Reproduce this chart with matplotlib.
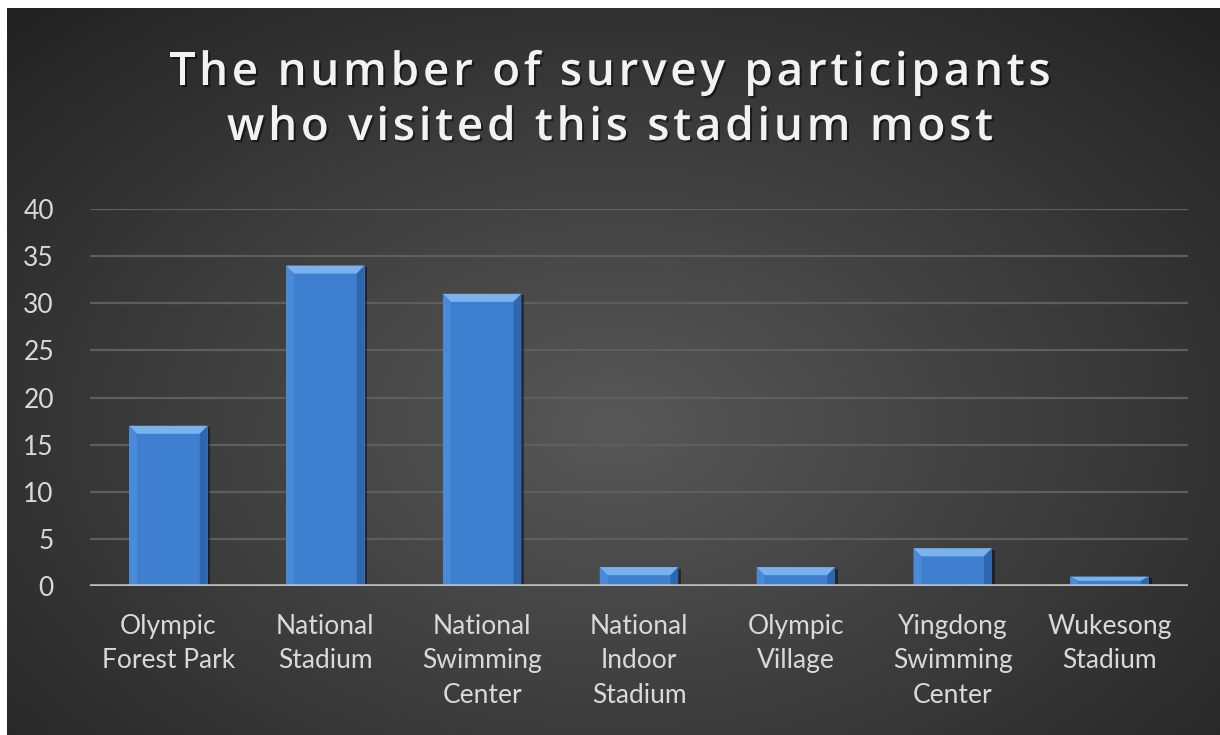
import numpy as np
import matplotlib
matplotlib.use("Agg")
import matplotlib.pyplot as plt
from matplotlib.patches import Polygon
import matplotlib.patheffects as pe

categories = ["Olympic\nForest Park", "National\nStadium", "National\nSwimming\nCenter",
              "National\nIndoor\nStadium", "Olympic\nVillage", "Yingdong\nSwimming\nCenter",
              "Wukesong\nStadium"]
visitors = [17, 34, 31, 2, 2, 4, 1]
y_ticks = [0, 5, 10, 15, 20, 25, 30, 35, 40]
title_lines = ["The number of survey participants", "who visited this stadium most"]

W, H = 1220, 735
fig = plt.figure(figsize=(W / 100, H / 100), dpi=100)
fig.patch.set_facecolor("white")

# dark radial-gradient chart area
bg = fig.add_axes([7 / W, 0, 1 - 7 / W, 1 - 8 / H])
bg.set_axis_off()
yy, xx = np.mgrid[0:400, 0:700]
cx, cy = 350, 230
r = np.sqrt(((xx - cx) / 520) ** 2 + ((yy - cy) / 330) ** 2)
r = np.clip(r, 0, 1)
inner = np.array([0x58, 0x58, 0x58]) / 255
outer = np.array([0x20, 0x20, 0x20]) / 255
img = inner[None, None, :] * (1 - r[..., None]) + outer[None, None, :] * r[..., None]
bg.imshow(img, extent=[0, 1, 0, 1], aspect="auto", interpolation="bilinear")
bg.set_xlim(0, 1)
bg.set_ylim(0, 1)

ax = fig.add_axes([90 / W, 149 / H, 1098 / W, 377 / H])
ax.set_facecolor("none")
ax.set_xlim(-0.5, len(categories) - 0.5)
ax.set_ylim(0, 40)

for t in y_ticks[1:]:
    ax.axhline(t, color="#5e5e5e", lw=1.6, zorder=1)

x = np.arange(len(categories))
bw = 0.5
bars = ax.bar(x, visitors, width=bw, color="#3e7fd0", zorder=3,
              path_effects=[pe.SimplePatchShadow(offset=(2, -1), shadow_rgbFace="black", alpha=0.45),
                            pe.Normal()])

# bevelled edges on each bar
bx = 0.05
by = 0.85
for b in bars:
    x0 = b.get_x()
    x1 = x0 + b.get_width()
    h = b.get_height()
    d = min(by, h * 0.45)
    dx = bx
    top = Polygon([[x0, h], [x1, h], [x1 - dx, h - d], [x0 + dx, h - d]],
                  closed=True, facecolor="#7ab2ee", edgecolor="none", zorder=4)
    left = Polygon([[x0, 0], [x0, h], [x0 + dx, h - d], [x0 + dx, 0]],
                   closed=True, facecolor="#4a8bd9", edgecolor="none", zorder=4)
    right = Polygon([[x1, 0], [x1, h], [x1 - dx, h - d], [x1 - dx, 0]],
                    closed=True, facecolor="#2f66ad", edgecolor="none", zorder=4)
    for p in (top, left, right):
        ax.add_patch(p)

ax.axhline(0, color="#bdbdbd", lw=2.6, zorder=5)

for s in ax.spines.values():
    s.set_visible(False)
ax.set_yticks(y_ticks)
ax.set_yticklabels([str(v) for v in y_ticks])
ax.set_xticks(x)
ax.set_xticklabels(categories, linespacing=1.48)
ax.tick_params(axis="both", length=0, colors="#d9d9d9", labelsize=19)
ax.tick_params(axis="y", pad=26)
ax.tick_params(axis="x", pad=20)
for lbl in ax.get_xticklabels() + ax.get_yticklabels():
    lbl.set_fontfamily("Lato")
    lbl.set_color("#d9d9d9")

# title drawn glyph by glyph with extra tracking
renderer = fig.canvas.get_renderer()
title_kw = dict(color="#f2f2f2", fontsize=33, fontweight="semibold", family="Open Sans",
                va="baseline", ha="left")
shadow = [pe.withSimplePatchShadow(offset=(1.5, -1.5), shadow_rgbFace="black", alpha=0.5)]
tracking = 3.7
baselines = [85, 140]


def glyph_width(ch):
    if ch == " ":
        pair = fig.text(0, 0, "a a", **title_kw)
        single = fig.text(0, 0, "a", **title_kw)
        w = pair.get_window_extent(renderer).width - 2 * single.get_window_extent(renderer).width
        pair.remove()
        single.remove()
        return w
    probe = fig.text(0, 0, ch, **title_kw)
    w = probe.get_window_extent(renderer).width
    probe.remove()
    return w


for line, base in zip(title_lines, baselines):
    widths = [glyph_width(ch) for ch in line]
    total = sum(widths) + tracking * (len(line) - 1)
    xpos = W / 2 - total / 2
    for ch, w in zip(line, widths):
        if ch != " ":
            fig.text(xpos / W, 1 - base / H, ch, path_effects=shadow, **title_kw)
        xpos += w + tracking

fig.savefig("out.png", dpi=100, facecolor=fig.get_facecolor())
